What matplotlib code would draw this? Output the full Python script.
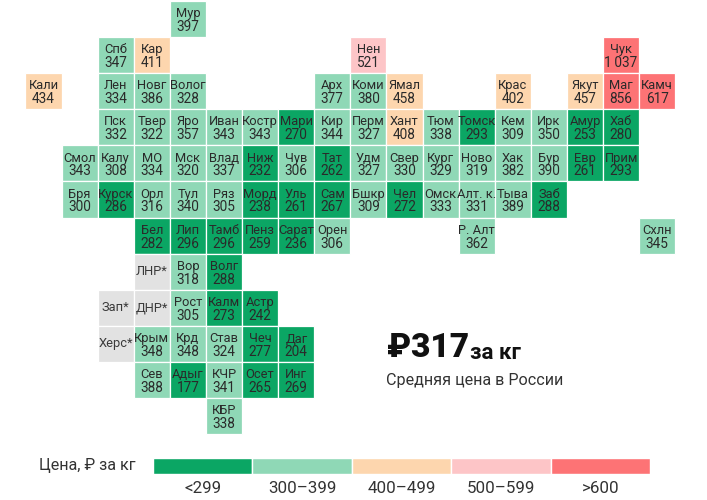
# encoding=utf-8
import matplotlib
matplotlib.use("Agg")
import matplotlib.pyplot as plt
from matplotlib.patches import Rectangle

plt.rcParams['font.family'] = ['Roboto', 'DejaVu Sans']

labels = ["Мур",
          "Спб", "Кар", "Нен", "Чук",
          "Кали", "Лен", "Новг", "Волог", "Арх", "Коми", "Ямал", "Крас", "Якут", "Маг", "Камч",
          "Пск", "Твер", "Яро", "Иван", "Костр", "Мари", "Кир", "Перм", "Хант", "Тюм", "Томск", "Кем", "Ирк", "Амур", "Хаб",
          "Смол", "Калу", "МО", "Мск", "Влад", "Ниж", "Чув", "Тат", "Удм", "Свер", "Кург", "Ново", "Хак", "Бур", "Евр", "Прим",
          "Бря", "Курск", "Орл", "Тул", "Ряз", "Морд", "Уль", "Сам", "Бшкр", "Чел", "Омск", "Алт. к.", "Тыва", "Заб",
          "Бел", "Лип", "Тамб", "Пенз", "Сарат", "Орен", "Р. Алт", "Схлн",
          "ЛНР*", "Вор", "Волг",
          "Зап*", "ДНР*", "Рост", "Калм", "Астр",
          "Херс*", "Крым", "Крд", "Став", "Чеч", "Даг",
          "Сев", "Адыг", "КЧР", "Осет", "Инг",
          "КБР"]
prices = [397,
          347, 411, 521, 1037,
          434, 334, 386, 328, 377, 380, 458, 402, 457, 856, 617,
          332, 322, 357, 343, 343, 270, 344, 327, 408, 338, 293, 309, 350, 253, 280,
          343, 308, 334, 320, 337, 232, 306, 262, 327, 330, 329, 319, 382, 390, 261, 293,
          300, 286, 316, 340, 305, 238, 261, 267, 309, 272, 333, 331, 389, 288,
          282, 296, 296, 259, 236, 306, 362, 345,
          None, 318, 288,
          None, None, 305, 273, 242,
          None, 348, 348, 324, 277, 204,
          388, 177, 341, 265, 269,
          338]
tile_rows = [0,
             1, 1, 1, 1,
             2, 2, 2, 2, 2, 2, 2, 2, 2, 2, 2,
             3, 3, 3, 3, 3, 3, 3, 3, 3, 3, 3, 3, 3, 3, 3,
             4, 4, 4, 4, 4, 4, 4, 4, 4, 4, 4, 4, 4, 4, 4, 4,
             5, 5, 5, 5, 5, 5, 5, 5, 5, 5, 5, 5, 5, 5,
             6, 6, 6, 6, 6, 6, 6, 6,
             7, 7, 7,
             8, 8, 8, 8, 8,
             9, 9, 9, 9, 9, 9,
             10, 10, 10, 10, 10,
             11]
tile_cols = [4,
             2, 3, 9, 16,
             0, 2, 3, 4, 8, 9, 10, 13, 15, 16, 17,
             2, 3, 4, 5, 6, 7, 8, 9, 10, 11, 12, 13, 14, 15, 16,
             1, 2, 3, 4, 5, 6, 7, 8, 9, 10, 11, 12, 13, 14, 15, 16,
             1, 2, 3, 4, 5, 6, 7, 8, 9, 10, 11, 12, 13, 14,
             3, 4, 5, 6, 7, 8, 12, 17,
             3, 4, 5,
             2, 3, 4, 5, 6,
             2, 3, 4, 5, 6, 7,
             3, 4, 5, 6, 7,
             5]

bin_labels = ["<299", "300–399", "400–499", "500–599", ">600"]
bin_edges = [300, 400, 500, 600]
bin_colors = ["#0ba664", "#8fd8b6", "#fdd6ae", "#fdc5c7", "#fd7375"]
no_data_color = "#e2e2e2"


def price_color(price):
    if price is None:
        return no_data_color
    for edge, color in zip(bin_edges, bin_colors):
        if price < edge:
            return color
    return bin_colors[-1]


fig = plt.figure(figsize=(7.07, 5), dpi=100)
ax = fig.add_axes([0, 0, 1, 1])
# one unit is one tile, the limits put the tiles where they sit in the picture
ax.set_xlim(-1.205, 18.38)
ax.set_ylim(13.32, -0.526)
ax.axis("off")

for label, price, r, c in zip(labels, prices, tile_rows, tile_cols):
    ax.add_patch(Rectangle((c - 0.5, r - 0.5), 1, 1, facecolor=price_color(price),
                           edgecolor="white", linewidth=0.9))
    if price is None:
        ax.text(c, r, label, ha="center", va="center", fontsize=9.3, color="#3a3a3a")
    else:
        value = f"{price:,}".replace(",", "\u2009")
        ax.text(c, r - 0.15, label, ha="center", va="center", fontsize=9.3, color="#2a2a2a")
        ax.text(c, r + 0.22, value, ha="center", va="center", fontsize=9.8, color="#2a2a2a")

fig.text(387 / 707, 1 - 348 / 500, "₽317", fontsize=24, fontweight="black", va="center", color="#111111")
fig.text(470 / 707, 1 - 353 / 500, "за кг", fontsize=16, fontweight="bold", va="center", color="#111111")
fig.text(386 / 707, 1 - 380 / 500, "Средняя цена в России", fontsize=11.6, va="center", color="#333333")

# legend
lax = fig.add_axes([153 / 707, 1 - 474 / 500, 497 / 707, 16 / 500])
lax.set_xlim(0, 5)
lax.set_ylim(0, 1)
lax.axis("off")
for i, color in enumerate(bin_colors):
    lax.add_patch(Rectangle((i, 0), 1, 1, facecolor=color, edgecolor="white", linewidth=1))
    lax.text(i + 0.5, -0.93, bin_labels[i], ha="center", va="center", fontsize=12.2, color="#333333", clip_on=False)
fig.text(39 / 707, 1 - 465.5 / 500, "Цена, ₽ за кг", fontsize=11.6, va="center", color="#333333")

fig.savefig("out.png", dpi=100)
